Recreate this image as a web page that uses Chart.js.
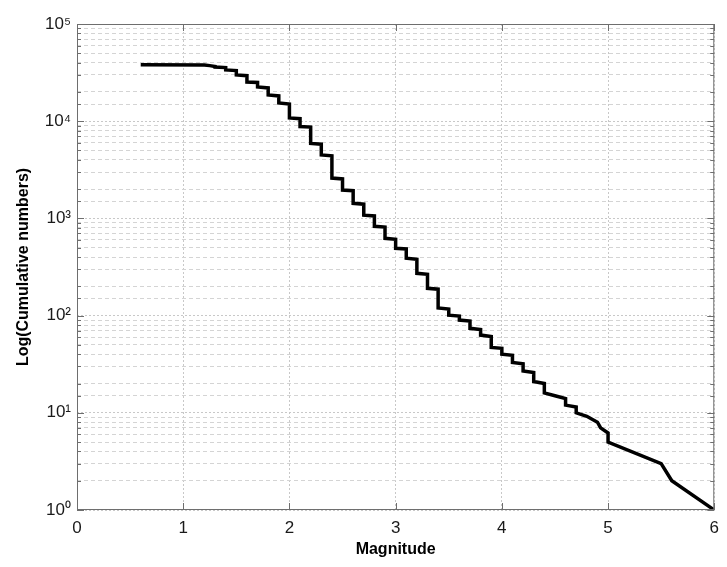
<!DOCTYPE html>
<html>
<head>
<meta charset="utf-8">
<script src="https://cdn.jsdelivr.net/npm/chart.js@4.4.1/dist/chart.umd.min.js"></script>
<style>
  html, body { margin: 0; padding: 0; background: #fff; }
</style>
</head>
<body>
<canvas id="gr" width="727" height="567"></canvas>
<script>
// Cumulative number of events vs magnitude (vertices of the step curve)
const magnitude = [0.6, 1.2, 1.25, 1.3, 1.3, 1.4, 1.4, 1.5, 1.5, 1.6, 1.6, 1.7, 1.7, 1.8, 1.8, 1.9, 1.9, 2.0, 2.0, 2.1,
  2.1, 2.2, 2.2, 2.3, 2.3, 2.4, 2.4, 2.5, 2.5, 2.6, 2.6, 2.7, 2.7, 2.8, 2.8, 2.9, 2.9, 3.0, 3.0, 3.1,
  3.1, 3.2, 3.2, 3.3, 3.3, 3.4, 3.4, 3.5, 3.5, 3.6, 3.6, 3.7, 3.7, 3.8, 3.8, 3.9, 3.9, 4.0, 4.0, 4.1,
  4.1, 4.2, 4.2, 4.3, 4.3, 4.4, 4.4, 4.5, 4.6, 4.6, 4.7, 4.7, 4.8, 4.9, 4.93, 5.0, 5.0, 5.5, 5.6, 6.0];
const cumulative = [38000, 37800, 37300, 36500, 36100, 35600, 33700, 33200, 29900, 29400, 25300, 25000, 22500, 22000, 18600, 18200, 15400, 15000, 10800, 10600,
  8800, 8700, 5900, 5800, 4500, 4400, 2600, 2550, 1960, 1930, 1430, 1400, 1080, 1060, 830, 815, 624, 610, 492, 485,
  389, 380, 272, 266, 191, 187, 120, 117, 101, 99, 90, 88, 74, 72, 63, 61, 47, 46, 40, 39,
  33, 32, 27, 26, 21, 20, 16, 15, 14, 12, 11.5, 10, 9.2, 8, 7, 6.2, 5, 3, 2, 1];

const xTicks = [0, 1, 2, 3, 4, 5, 6];
const yDecades = [1, 10, 100, 1000, 10000, 100000];
const supDigits = ['\u2070', '\u00B9', '\u00B2', '\u00B3', '\u2074', '\u2075'];

const points = magnitude.map((m, i) => ({ x: m, y: cumulative[i] }));

function isDecade(v) {
  const l = Math.log10(v);
  return Math.abs(l - Math.round(l)) < 1e-9;
}

// box round the plot + MATLAB-like inward ticks
const frame = {
  id: 'frame',
  afterDraw(chart) {
    const { ctx, chartArea: a, scales } = chart;
    ctx.save();
    ctx.strokeStyle = '#6e6e6e';
    ctx.lineWidth = 1;
    ctx.strokeRect(a.left + 0.5, a.top + 0.5, a.right - a.left - 1, a.bottom - a.top - 1);
    ctx.beginPath();
    scales.y.ticks.forEach(t => {
      const py = Math.round(scales.y.getPixelForValue(t.value)) + 0.5;
      const len = isDecade(t.value) ? 7 : 4;
      ctx.moveTo(a.left, py); ctx.lineTo(a.left + len, py);
      ctx.moveTo(a.right, py); ctx.lineTo(a.right - len, py);
    });
    xTicks.forEach(v => {
      const px = Math.round(scales.x.getPixelForValue(v)) + 0.5;
      ctx.moveTo(px, a.bottom); ctx.lineTo(px, a.bottom - 7);
      ctx.moveTo(px, a.top); ctx.lineTo(px, a.top + 7);
    });
    ctx.stroke();
    ctx.restore();
  }
};

const cvs = document.getElementById('gr');
const chart = new Chart(cvs.getContext('2d'), {
  type: 'scatter',
  data: {
    datasets: [{
      data: points,
      showLine: true,
      borderColor: '#000',
      borderWidth: 3.5,
      pointRadius: 0,
      tension: 0,
      fill: false
    }]
  },
  options: {
    responsive: false,
    animation: false,
    layout: { padding: { top: 24, right: 8, left: 0, bottom: 0 } },
    plugins: { legend: { display: false }, tooltip: { enabled: false } },
    scales: {
      x: {
        type: 'linear',
        min: 0,
        max: 6,
        afterFit: s => { s.height = 57; },
        afterBuildTicks: s => { s.ticks = xTicks.map(v => ({ value: v })); },
        ticks: {
          color: '#1a1a1a',
          padding: 8,
          font: { family: 'Liberation Sans, Arial, sans-serif', size: 17 },
          callback: v => String(v)
        },
        grid: { color: '#c8c8c8', lineWidth: 1, drawTicks: false },
        border: { display: false, dash: [2, 2] },
        title: {
          display: true,
          text: 'Magnitude',
          color: '#000',
          padding: { top: 0, bottom: 8 },
          font: { family: 'Liberation Sans, Arial, sans-serif', size: 16, weight: 'bold' }
        }
      },
      y: {
        type: 'logarithmic',
        min: 1,
        max: 100000,
        afterFit: s => { s.width = 77; },
        ticks: {
          autoSkip: false,
          color: '#1a1a1a',
          padding: 6,
          font: { family: 'Liberation Sans, Arial, sans-serif', size: 17 },
          callback: v => {
            if (!isDecade(v)) return '';
            const e = Math.round(Math.log10(v));
            return '10' + supDigits[e];
          }
        },
        grid: {
          drawTicks: false,
          lineWidth: 1,
          color: ctx => (ctx.tick && isDecade(ctx.tick.value)) ? '#c8c8c8' : '#d4d4d4'
        },
        border: {
          display: false,
          dash: ctx => (ctx.tick && isDecade(ctx.tick.value)) ? [2, 2] : [4, 3]
        },
        title: {
          display: true,
          text: 'Log(Cumulative numbers)',
          color: '#000',
          padding: { top: 14, bottom: 0 },
          font: { family: 'Liberation Sans, Arial, sans-serif', size: 16, weight: 'bold' }
        }
      }
    }
  },
  plugins: [frame]
});
</script>
</body>
</html>
